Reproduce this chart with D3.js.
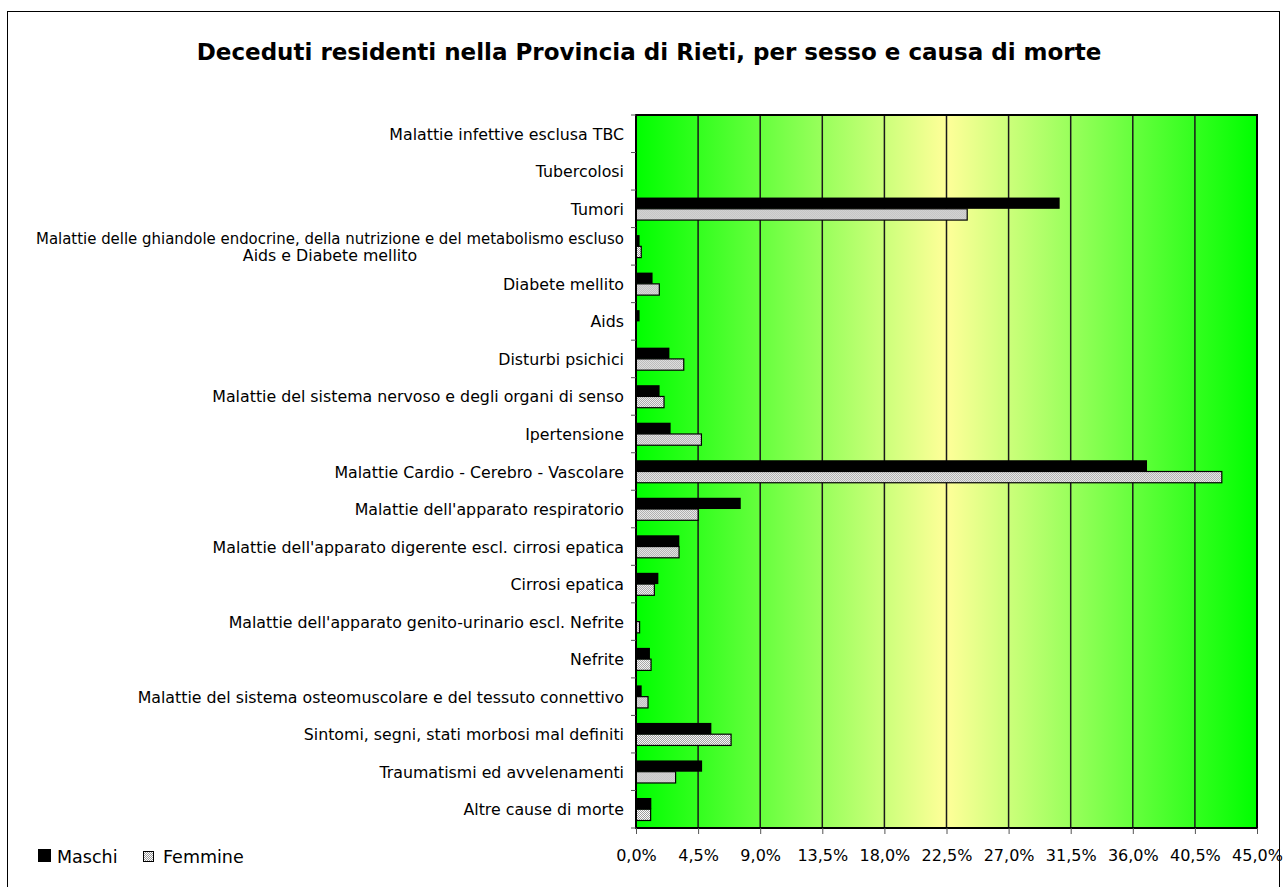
<!DOCTYPE html>
<html>
<head>
<meta charset="utf-8">
<script src="https://cdn.jsdelivr.net/npm/d3@7"></script>
<style>
  html, body { margin: 0; padding: 0; background: #fff; }
  svg { display: block; }
  text { font-family: "DejaVu Sans", sans-serif; fill: #000; }
</style>
</head>
<body>
<div id="chart"></div>
<script>
// Categories, top to bottom
const categories = [
    "Malattie infettive esclusa TBC",
    "Tubercolosi",
    "Tumori",
    "Malattie delle ghiandole endocrine, della nutrizione e del metabolismo escluso|Aids e Diabete mellito",
    "Diabete mellito",
    "Aids",
    "Disturbi psichici",
    "Malattie del sistema nervoso e degli organi di senso",
    "Ipertensione",
    "Malattie Cardio - Cerebro - Vascolare",
    "Malattie dell'apparato respiratorio",
    "Malattie dell'apparato digerente escl. cirrosi epatica",
    "Cirrosi epatica",
    "Malattie dell'apparato genito-urinario escl. Nefrite",
    "Nefrite",
    "Malattie del sistema osteomuscolare e del tessuto connettivo",
    "Sintomi, segni, stati morbosi mal definiti",
    "Traumatismi ed avvelenamenti",
    "Altre cause di morte"
];

// percent values
const maschi = [0, 0, 30.7, 0.26, 1.2, 0.26, 2.42, 1.71, 2.51, 37.03, 7.59, 3.14, 1.62, 0, 1.01, 0.41, 5.46, 4.79, 1.11];
const femmine = [0, 0, 24.0, 0.38, 1.69, 0, 3.46, 2.03, 4.74, 42.45, 4.5, 3.12, 1.33, 0.26, 1.09, 0.87, 6.89, 2.87, 1.06];

const series = ["Maschi", "Femmine"];
const xTicks = [0, 4.5, 9, 13.5, 18, 22.5, 27, 31.5, 36, 40.5, 45];

const width = 1287;
const height = 887;
const plot = { left: 636, right: 1257, top: 115, bottom: 828 };

const svg = d3.select("#chart")
    .append("svg")
    .attr("width", width)
    .attr("height", height);

const defs = svg.append("defs");

// background gradient green -> pale yellow -> green
const grad = defs.append("linearGradient")
    .attr("id", "bg")
    .attr("x1", "0%").attr("x2", "100%")
    .attr("y1", "0%").attr("y2", "0%");
grad.append("stop").attr("offset", "0%").attr("stop-color", "#00ff00");
grad.append("stop").attr("offset", "50%").attr("stop-color", "#ffff99");
grad.append("stop").attr("offset", "100%").attr("stop-color", "#00ff00");

// dotted fill for Femmine
const pat = defs.append("pattern")
    .attr("id", "dots")
    .attr("width", 2).attr("height", 2)
    .attr("patternUnits", "userSpaceOnUse");
pat.append("rect").attr("width", 2).attr("height", 2).attr("fill", "#ffffff");
pat.append("rect").attr("width", 1).attr("height", 1).attr("fill", "#999999");
pat.append("rect").attr("x", 1).attr("y", 1).attr("width", 1).attr("height", 1).attr("fill", "#999999");

// outer frame
svg.append("rect")
    .attr("x", 7.5).attr("y", 11.5)
    .attr("width", 1272).attr("height", 880)
    .attr("fill", "none")
    .attr("stroke", "#000")
    .attr("stroke-width", 1);

// title
svg.append("text")
    .attr("x", 649)
    .attr("y", 60)
    .attr("text-anchor", "middle")
    .style("font-weight", "bold")
    .style("font-size", "23px")
    .text("Deceduti residenti nella Provincia di Rieti, per sesso e causa di morte");

// scales
const x = d3.scaleLinear().domain([0, 45]).range([plot.left, plot.right]);
const y = d3.scaleBand()
    .domain(categories)
    .range([plot.top, plot.bottom])
    .paddingInner(0.4)
    .paddingOuter(0.2);
const ySub = d3.scaleBand().domain(series).range([0, y.bandwidth()]);

// plot background
svg.append("rect")
    .attr("x", plot.left).attr("y", plot.top)
    .attr("width", plot.right - plot.left)
    .attr("height", plot.bottom - plot.top)
    .attr("fill", "url(#bg)");

// gridlines
svg.append("g")
    .selectAll("line")
    .data(xTicks.slice(1))
    .enter().append("line")
    .attr("x1", d => x(d)).attr("x2", d => x(d))
    .attr("y1", plot.top).attr("y2", plot.bottom)
    .attr("stroke", "#1a1a1a")
    .attr("stroke-width", 1.5);

// bars
const rows = categories.map((c, i) => ({ cat: c, values: [maschi[i], femmine[i]] }));
const groups = svg.append("g")
    .selectAll("g")
    .data(rows)
    .enter().append("g")
    .attr("transform", d => `translate(0,${y(d.cat)})`);

groups.selectAll("rect")
    .data(d => d.values.map((v, j) => ({ key: series[j], value: v })).filter(e => e.value > 0))
    .enter().append("rect")
    .attr("x", x(0))
    .attr("y", d => ySub(d.key))
    .attr("width", d => x(d.value) - x(0))
    .attr("height", ySub.bandwidth())
    .attr("fill", d => d.key === "Maschi" ? "#000" : "url(#dots)")
    .attr("stroke", "#000")
    .attr("stroke-width", d => d.key === "Maschi" ? 0 : 1.2);

// plot border
svg.append("rect")
    .attr("x", plot.left).attr("y", plot.top)
    .attr("width", plot.right - plot.left)
    .attr("height", plot.bottom - plot.top)
    .attr("fill", "none")
    .attr("stroke", "#000")
    .attr("stroke-width", 2);

// x axis
const xAxis = svg.append("g")
    .attr("transform", `translate(0,${plot.bottom})`)
    .call(d3.axisBottom(x)
        .tickValues(xTicks)
        .tickSize(6)
        .tickPadding(16)
        .tickFormat(d => d.toFixed(1).replace(".", ",") + "%"));
xAxis.select(".domain").remove();
xAxis.selectAll("line").attr("stroke", "#555");
xAxis.selectAll("text")
    .style("font-size", "16px")
    .style("font-family", "'DejaVu Sans', sans-serif");

// y axis ticks at band boundaries
const step = y.step();
svg.append("g")
    .selectAll("line")
    .data(d3.range(categories.length + 1))
    .enter().append("line")
    .attr("x1", plot.left - 5).attr("x2", plot.left)
    .attr("y1", i => plot.top + i * step)
    .attr("y2", i => plot.top + i * step)
    .attr("stroke", "#555");

// category labels
const labelX = 624;
const maxLabelW = labelX - 36;
const labels = svg.append("g")
    .selectAll("text")
    .data(categories)
    .enter().append("text")
    .style("font-size", "15.8px")
    .attr("text-anchor", "end")
    .attr("x", labelX)
    .attr("y", d => y(d) + y.bandwidth() / 2 + 6);

labels.each(function(d) {
    const parts = d.split("|");
    const t = d3.select(this);
    if (parts.length === 1) {
        t.text(d);
        return;
    }
    const yc = y(d) + y.bandwidth() / 2;
    t.attr("y", null);
    const first = t.append("tspan").attr("x", labelX).attr("y", yc - 2.5).text(parts[0]);
    let w = first.node().getComputedTextLength();
    if (w > maxLabelW) {
        // squeeze long line to fit the left margin
        first.attr("textLength", maxLabelW).attr("lengthAdjust", "spacingAndGlyphs");
        w = maxLabelW;
    }
    t.append("tspan")
        .attr("x", labelX - w / 2)
        .attr("y", yc + 14.5)
        .attr("text-anchor", "middle")
        .text(parts[1]);
});

// legend
const legend = svg.append("g").attr("transform", "translate(38,849)");
legend.append("rect").attr("x", 0).attr("y", 0).attr("width", 13).attr("height", 13).attr("fill", "#000");
legend.append("text").attr("x", 19).attr("y", 14).style("font-size", "17.5px").text("Maschi");
legend.append("rect").attr("x", 105.5).attr("y", 2.5).attr("width", 10).attr("height", 10)
    .attr("fill", "url(#dots)").attr("stroke", "#000").attr("stroke-width", 1);
legend.append("text").attr("x", 125).attr("y", 14).style("font-size", "17.5px").text("Femmine");
</script>
</body>
</html>
